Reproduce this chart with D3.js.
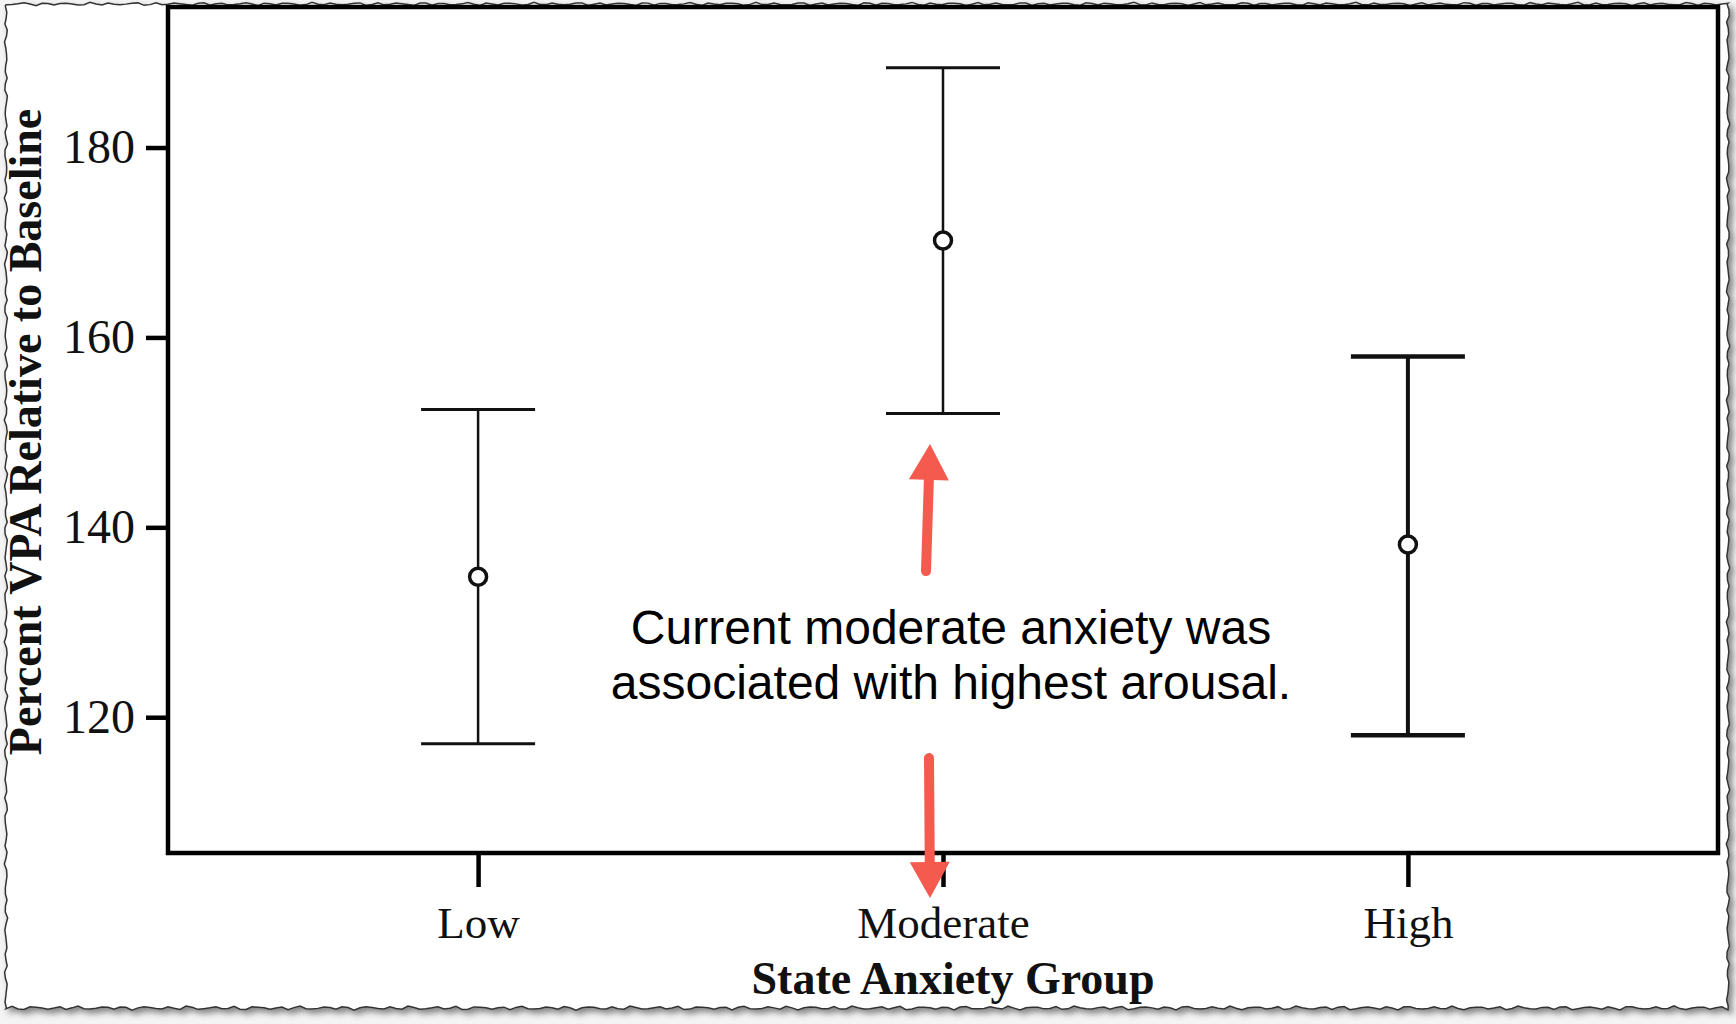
<!DOCTYPE html>
<html>
<head>
<meta charset="utf-8">
<script src="https://cdn.jsdelivr.net/npm/d3@7"></script>
<style>
  body { margin: 0; background: #f4f4f4; }
  svg { display: block; }
</style>
</head>
<body>
<svg id="chart" width="1736" height="1024"></svg>
<script>
// data
const groups = ["Low", "Moderate", "High"];
const means = [134.8, 170.2, 138.2];
const lower = [117.2, 152.0, 118.1];
const upper = [152.4, 188.4, 158.0];
const barWidths = [2.5, 2.5, 4];
const yTicks = [120, 140, 160, 180];

const svg = d3.select("#chart");

// torn paper edge (decoration only)
const defs = svg.append("defs");
const f = defs.append("filter").attr("id", "shadow").attr("x", "-5%").attr("y", "-5%").attr("width", "110%").attr("height", "110%");
f.append("feDropShadow").attr("dx", 4).attr("dy", 4).attr("stdDeviation", 3).attr("flood-color", "#000").attr("flood-opacity", 0.45);

function wiggle(i, a) {
  return a * (Math.sin(i * 1.7) * 0.5 + Math.sin(i * 3.9 + 1) * 0.3 + Math.sin(i * 7.3 + 2) * 0.2);
}
const pts = [];
const L = 6, T = 4, R = 1728, B = 1008, st = 6;
let k = 0;
for (let x = L; x <= R; x += st) pts.push([x, T + wiggle(k++, 2)]);
for (let y = T; y <= B; y += st) pts.push([R + wiggle(k++, 2), y]);
for (let x = R; x >= L; x -= st) pts.push([x, B + wiggle(k++, 2.5)]);
for (let y = B; y >= T; y -= st) pts.push([L + wiggle(k++, 2), y]);
svg.append("path")
  .attr("d", d3.line()(pts) + "Z")
  .attr("fill", "#fff")
  .attr("stroke", "#333")
  .attr("stroke-width", 1.5)
  .attr("filter", "url(#shadow)");

const margin = { left: 168, right: 1718, top: 7, bottom: 853 };

const x = d3.scalePoint()
  .domain(groups)
  .range([margin.left, margin.right])
  .padding(0.667);

const y = d3.scaleLinear()
  .domain([105.7, 194.8])
  .range([margin.bottom, margin.top]);

// plot frame
svg.append("rect")
  .attr("x", margin.left)
  .attr("y", margin.top)
  .attr("width", margin.right - margin.left)
  .attr("height", margin.bottom - margin.top)
  .attr("fill", "none")
  .attr("stroke", "#000")
  .attr("stroke-width", 4.5);

// axes
const yAxis = svg.append("g")
  .attr("transform", `translate(${margin.left},0)`)
  .call(d3.axisLeft(y).tickValues(yTicks).tickSize(22).tickPadding(11));
yAxis.select(".domain").remove();
yAxis.selectAll("line").attr("stroke-width", 4.5);
yAxis.selectAll("text")
  .attr("font-family", "Liberation Serif, Times New Roman, serif")
  .attr("font-size", 48)
  .attr("fill", "#111");

const xAxis = svg.append("g")
  .attr("transform", `translate(0,${margin.bottom})`)
  .call(d3.axisBottom(x).tickSize(34).tickPadding(19));
xAxis.select(".domain").remove();
xAxis.selectAll("line").attr("stroke-width", 4.5);
xAxis.selectAll("text")
  .attr("font-family", "Liberation Serif, Times New Roman, serif")
  .attr("font-size", 45)
  .attr("fill", "#111");

// axis titles
svg.append("text")
  .attr("x", 953)
  .attr("y", 994)
  .attr("text-anchor", "middle")
  .attr("font-family", "Liberation Serif, Times New Roman, serif")
  .attr("font-weight", "bold")
  .attr("font-size", 46)
  .attr("fill", "#111")
  .text("State Anxiety Group");

svg.append("text")
  .attr("transform", "translate(41,432) rotate(-90)")
  .attr("text-anchor", "middle")
  .attr("font-family", "Liberation Serif, Times New Roman, serif")
  .attr("font-weight", "bold")
  .attr("font-size", 46)
  .attr("fill", "#111")
  .text("Percent VPA Relative to Baseline");

// error bars
const rows = groups.map((g, i) => ({ g, mean: means[i], lo: lower[i], hi: upper[i], w: barWidths[i] }));
const capHalf = 57;
const bars = svg.append("g").selectAll("g").data(rows).join("g");
bars.append("line")
  .attr("x1", d => x(d.g)).attr("x2", d => x(d.g))
  .attr("y1", d => y(d.hi)).attr("y2", d => y(d.lo))
  .attr("stroke", "#111").attr("stroke-width", d => d.w);
bars.append("line")
  .attr("x1", d => x(d.g) - capHalf).attr("x2", d => x(d.g) + capHalf)
  .attr("y1", d => y(d.hi)).attr("y2", d => y(d.hi))
  .attr("stroke", "#111").attr("stroke-width", d => d.w + 0.5);
bars.append("line")
  .attr("x1", d => x(d.g) - capHalf).attr("x2", d => x(d.g) + capHalf)
  .attr("y1", d => y(d.lo)).attr("y2", d => y(d.lo))
  .attr("stroke", "#111").attr("stroke-width", d => d.w + 0.5);
bars.append("circle")
  .attr("cx", d => x(d.g))
  .attr("cy", d => y(d.mean))
  .attr("r", 8.5)
  .attr("fill", "#fff")
  .attr("stroke", "#111")
  .attr("stroke-width", 3.5);

// annotation
const note = svg.append("text")
  .attr("text-anchor", "middle")
  .attr("font-family", "Liberation Sans, Arial, sans-serif")
  .attr("font-size", 48)
  .attr("fill", "#000");
note.append("tspan").attr("x", 951).attr("y", 644).text("Current moderate anxiety was");
note.append("tspan").attr("x", 951).attr("y", 699).text("associated with highest arousal.");

const red = "#f55a4e";
function arrow(x1, y1, x2, y2) {
  const ang = Math.atan2(y2 - y1, x2 - x1);
  const len = 36, half = 20;
  const bx = x2 - len * Math.cos(ang), by = y2 - len * Math.sin(ang);
  svg.append("line")
    .attr("x1", x1).attr("y1", y1).attr("x2", bx).attr("y2", by)
    .attr("stroke", red).attr("stroke-width", 10).attr("stroke-linecap", "round");
  const px = -Math.sin(ang), py = Math.cos(ang);
  svg.append("path")
    .attr("d", `M${x2},${y2}L${bx + px * half},${by + py * half}L${bx - px * half},${by - py * half}Z`)
    .attr("fill", red);
}
arrow(926, 571, 930, 444);
arrow(929, 758, 930, 898);
</script>
</body>
</html>
